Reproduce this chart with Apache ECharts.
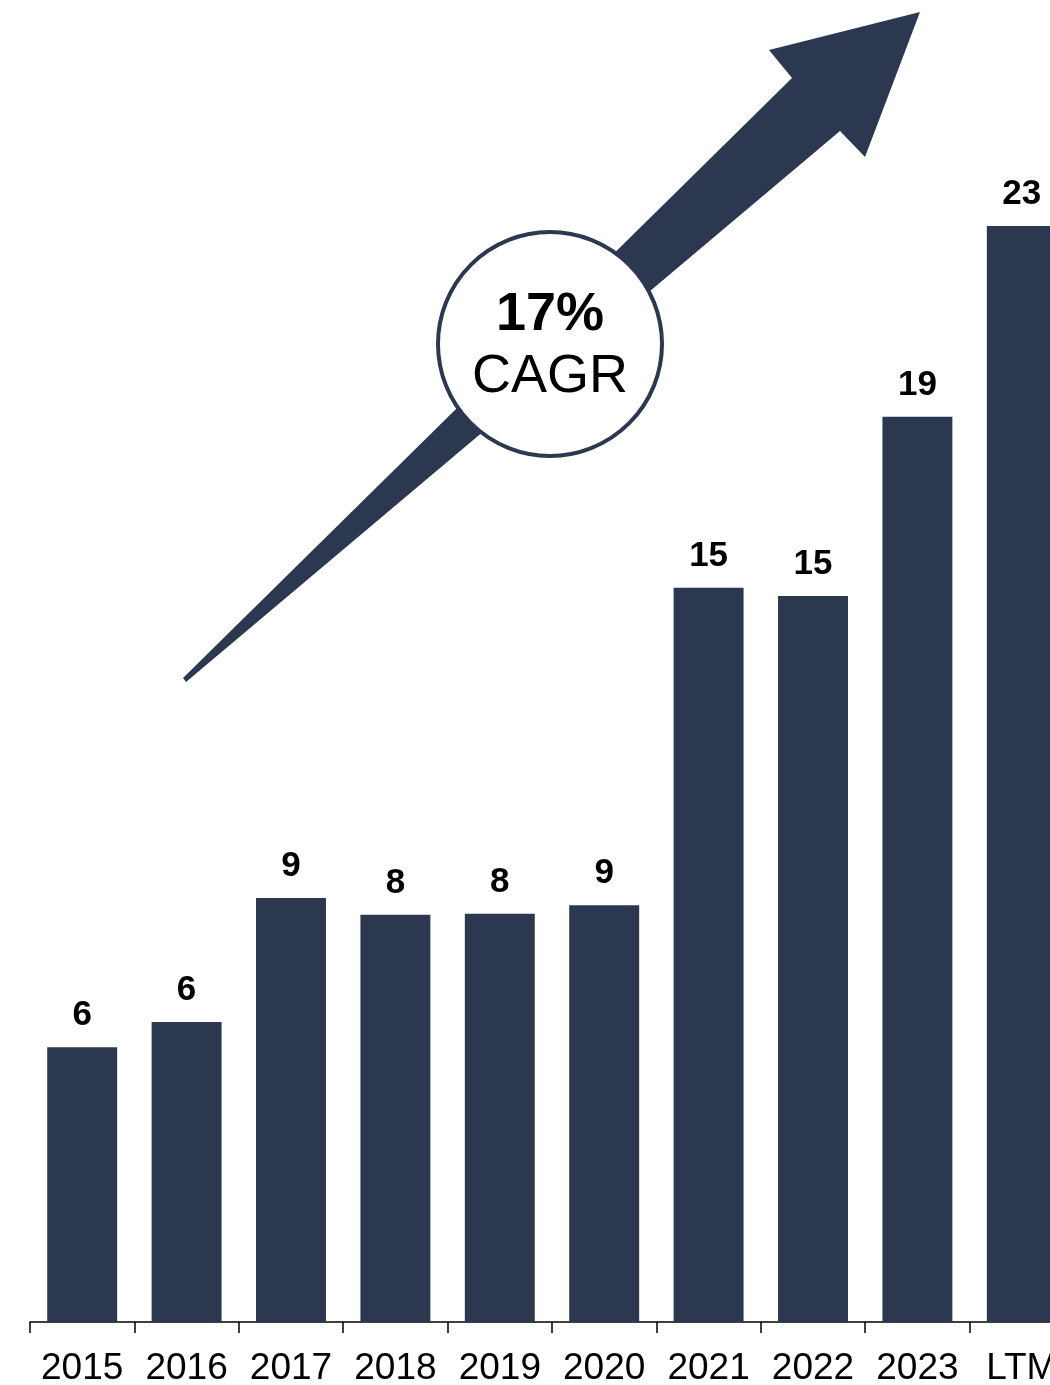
<!DOCTYPE html>
<html>
<head>
<meta charset="utf-8">
<style>
  html, body { margin: 0; padding: 0; background: #ffffff; }
  #chart { width: 1050px; height: 1385px; }
</style>
<script src="https://cdn.jsdelivr.net/npm/echarts@6/dist/echarts.min.js"></script>
</head>
<body>
<div id="chart"></div>
<script>
// Yearly values (last column is trailing twelve months)
const categories = ['2015', '2016', '2017', '2018', '2019', '2020', '2021', '2022', '2023', 'LTM'];
const values = [5.69, 6.21, 8.78, 8.43, 8.45, 8.63, 15.2, 15.03, 18.74, 22.69];
const cagrText = '17%';
const cagrCaption = 'CAGR';

const NAVY = '#2C3750';
const FONT = '"Liberation Sans", Arial, Helvetica, sans-serif';

const chart = echarts.init(document.getElementById('chart'), null, { renderer: 'canvas' });

chart.setOption({
  animation: false,
  backgroundColor: '#ffffff',
  grid: {
    left: 30, width: 1044, top: 114.5, height: 1207.5,
    containLabel: false,
    outerBoundsMode: 'none'
  },
  xAxis: {
    type: 'category',
    data: categories,
    boundaryGap: true,
    axisLine: { show: true, lineStyle: { color: '#000000', width: 1.5 } },
    axisTick: { show: true, length: 11, lineStyle: { color: '#000000', width: 1.5 } },
    axisLabel: { color: '#000000', fontFamily: FONT, fontSize: 37, margin: 28, interval: 0, hideOverlap: false },
    splitLine: { show: false }
  },
  yAxis: {
    type: 'value',
    min: 0,
    max: 25,
    show: false,
    splitLine: { show: false }
  },
  series: [{
    type: 'bar',
    data: values,
    barWidth: '67%',
    itemStyle: { color: NAVY },
    label: {
      show: true,
      position: 'top',
      distance: 14,
      color: '#000000',
      fontFamily: FONT,
      fontWeight: 'bold',
      fontSize: 35,
      formatter: p => Number(p.value).toFixed(0)
    }
  }],
  graphic: [
    {
      type: 'polygon',
      z: 10,
      shape: {
        points: [[183, 678], [792, 78], [769, 50], [920, 12], [865, 157], [840, 131], [186, 682]]
      },
      style: { fill: NAVY }
    },
    {
      type: 'circle',
      z: 11,
      shape: { cx: 550, cy: 344, r: 112 },
      style: { fill: '#ffffff', stroke: NAVY, lineWidth: 4 }
    },
    {
      type: 'text',
      z: 12,
      x: 550,
      y: 315,
      style: {
        text: cagrText,
        fill: '#000000',
        font: 'bold 54px ' + FONT,
        align: 'center',
        verticalAlign: 'middle'
      }
    },
    {
      type: 'text',
      z: 12,
      x: 550,
      y: 377,
      style: {
        text: cagrCaption,
        fill: '#000000',
        font: '54px ' + FONT,
        align: 'center',
        verticalAlign: 'middle'
      }
    }
  ]
});
</script>
</body>
</html>
